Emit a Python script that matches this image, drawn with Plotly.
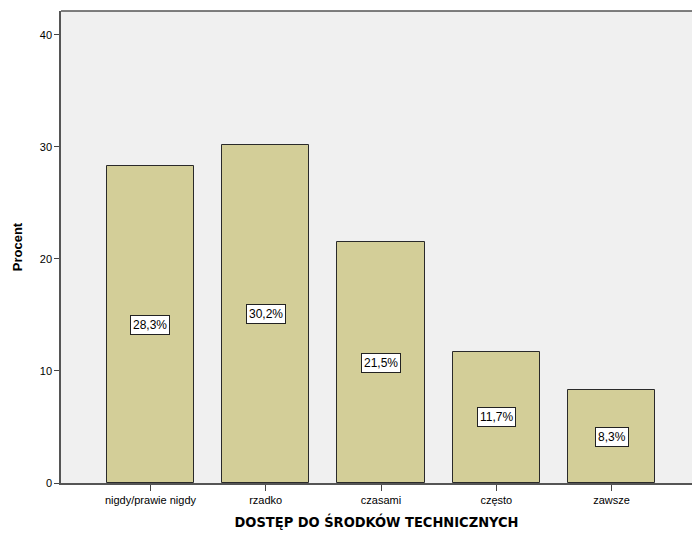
import plotly.graph_objects as go

categories = ["nigdy/prawie nigdy", "rzadko", "czasami", "często", "zawsze"]
percent = [28.3, 30.2, 21.5, 11.7, 8.3]
labels = ["28,3%", "30,2%", "21,5%", "11,7%", "8,3%"]
y_ticks = [0, 10, 20, 30, 40]

x_pos = list(range(len(categories)))

fig = go.Figure()
fig.add_trace(go.Bar(
    x=x_pos,
    y=percent,
    width=0.755,
    marker=dict(color="#D3CE98", line=dict(color="#2a2a2a", width=1)),
    hoverinfo="skip",
))

for xi, v, lab in zip(x_pos, percent, labels):
    fig.add_annotation(
        x=xi, y=v / 2, text=lab, showarrow=False,
        font=dict(family="Arial, Liberation Sans, sans-serif", size=12, color="#000"),
        bgcolor="white", bordercolor="#222", borderwidth=1, borderpad=2,
    )

fig.update_layout(
    width=692, height=533,
    margin=dict(l=61, r=0, t=11, b=50),
    paper_bgcolor="white",
    plot_bgcolor="#F0F0F0",
    showlegend=False,
    font=dict(family="Arial, Liberation Sans, sans-serif", size=11, color="#000"),
    bargap=0,
)

fig.update_xaxes(
    range=[-0.776, 4.698],
    tickmode="array", tickvals=x_pos, ticktext=categories,
    ticks="outside", ticklen=6, tickcolor="#444", tickwidth=1,
    showline=True, linecolor="#555", linewidth=1.5,
    showgrid=False, zeroline=False,
    tickfont=dict(size=11),
    title=dict(text="<b>DOSTĘP DO ŚRODKÓW TECHNICZNYCH</b>",
               font=dict(size=14.5, family="DejaVu Sans Condensed, Arial, sans-serif"),
               standoff=12),
)
fig.update_yaxes(
    range=[0, 42.14],
    tickmode="array", tickvals=y_ticks,
    ticks="outside", ticklen=5, tickcolor="#444", tickwidth=1,
    showline=True, linecolor="#555", linewidth=1.5, mirror=False,
    showgrid=False, zeroline=False,
    tickfont=dict(size=11),
    title=dict(text="<b>Procent</b>", font=dict(size=13), standoff=14),
)

# top border of the plot frame
fig.add_shape(type="line", xref="paper", yref="paper", x0=0, x1=1, y0=1, y1=1,
              line=dict(color="#555", width=1.5))

fig.write_html("out.html")
